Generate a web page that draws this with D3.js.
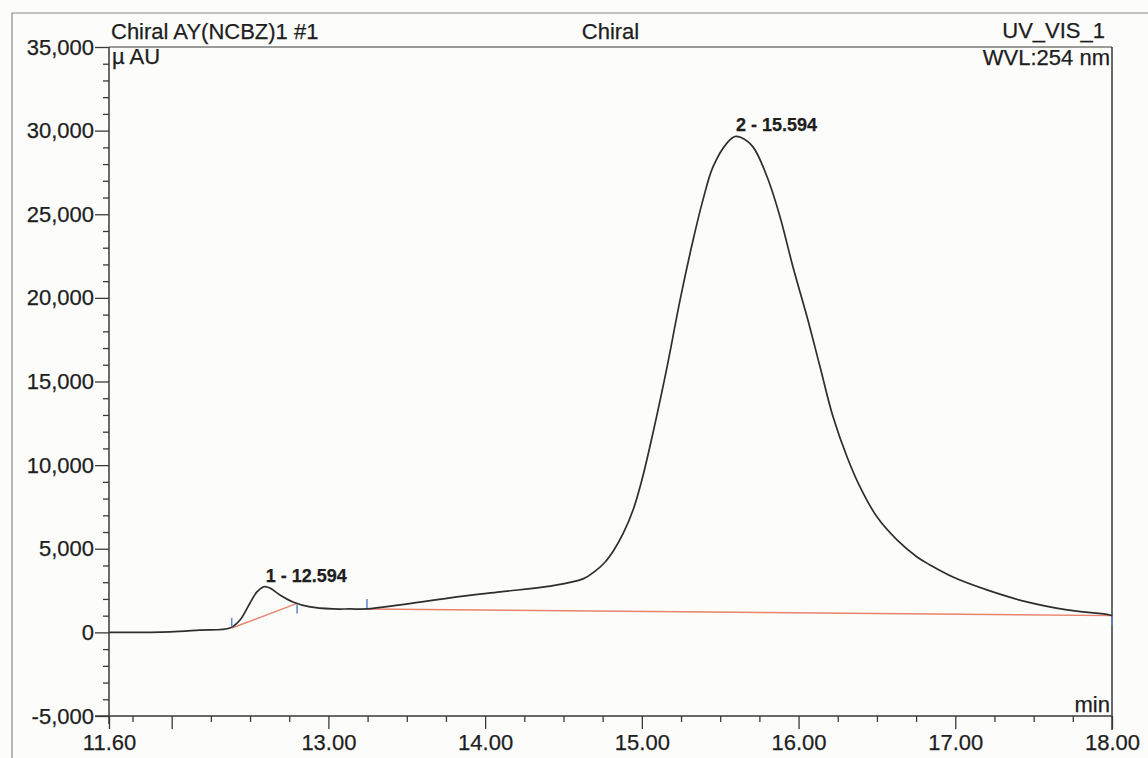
<!DOCTYPE html>
<html>
<head>
<meta charset="utf-8">
<script src="https://cdn.jsdelivr.net/npm/d3@7"></script>
<style>
  html, body { margin: 0; padding: 0; background: #fcfcfb; }
  svg { display: block; }
  text { font-family: "Liberation Sans", Arial, sans-serif; fill: #1e1e1e; stroke: #1e1e1e; stroke-width: 0.25px; }
</style>
</head>
<body>
<svg id="chart" width="1148" height="758"></svg>
<script>
// ---- data ----
const times = [11.60, 11.99, 12.18, 12.372, 12.436, 12.50, 12.544, 12.583, 12.594, 12.627, 12.691, 12.774, 12.883, 13.029, 13.138, 13.246,
  13.457, 13.776, 14.095, 14.414, 14.625, 14.70, 14.76, 14.82, 14.88, 14.944, 15.00, 15.071, 15.161, 15.244, 15.327, 15.39, 15.454, 15.544, 15.594,
  15.63, 15.709, 15.799, 15.882, 15.964, 16.054, 16.137, 16.22, 16.309, 16.392, 16.50, 16.628, 16.756, 16.839, 16.985, 17.202, 17.457,
  17.713, 17.987, 18.00];
const signal = [0, 30, 140, 260, 740, 1760, 2420, 2710, 2740, 2650, 2240, 1820, 1520, 1400, 1400, 1400,
  1640, 2060, 2420, 2770, 3200, 3650, 4150, 4900, 5900, 7320, 9100, 11920, 15870, 19880, 23460, 25860, 27830, 29270, 29650,
  29600, 29030, 27240, 24840, 21860, 18870, 15880, 12890, 10500, 8700, 6910, 5530, 4510, 4030, 3310, 2540, 1820,
  1340, 1040, 980];

const peakNames = ["1 - 12.594", "2 - 15.594"];
const peakTimes = [12.594, 15.594];
const peakHeights = [2740, 29650];

// integration baselines
const baseStartT = [12.383, 13.246];
const baseStartV = [260, 1400];
const baseEndT = [12.80, 18.00];
const baseEndV = [1730, 1000];

// peak delimiter marks
const delimT = [12.383, 12.80, 13.246, 18.00];
const delimV = [260, 1730, 1400, 1000];
const delimDir = [-1, 1, -1, 1];

const xLabelTicks = [11.60, 13.00, 14.00, 15.00, 16.00, 17.00, 18.00];
const xMajorTicks = [11.60, 12, 13, 14, 15, 16, 17, 18];
const xMinorTicks = [11.75, 12.25, 12.5, 12.75, 13.25, 13.5, 13.75, 14.25, 14.5, 14.75, 15.25, 15.5, 15.75,
  16.25, 16.5, 16.75, 17.25, 17.5, 17.75];
const yMajorTicks = [-5000, 0, 5000, 10000, 15000, 20000, 25000, 30000, 35000];
const yMinorTicks = [-4000, -3000, -2000, -1000, 1000, 2000, 3000, 4000, 6000, 7000, 8000, 9000, 11000, 12000, 13000, 14000,
  16000, 17000, 18000, 19000, 21000, 22000, 23000, 24000, 26000, 27000, 28000, 29000, 31000, 32000, 33000, 34000];

const headerLeft = "Chiral AY(NCBZ)1 #1";
const headerCenter = "Chiral";
const headerRight = "UV_VIS_1";
const unitLeft = "\u00b5 AU";
const unitRight = "WVL:254 nm";
const xUnit = "min";

// ---- layout ----
const svg = d3.select("#chart");
const L = 109, R = 1112, T = 47, B = 716;
const x = d3.scaleLinear().domain([11.6, 18.0]).range([L, R]);
const y = d3.scaleLinear().domain([-5000, 35000]).range([B, T]);
const axisColor = "#3a3a3a";
const loc = d3.formatLocale({decimal: ".", thousands: ",", grouping: [3], currency: ["", ""], minus: "-"});
const fy = loc.format(",");
const fx = d3.format(".2f");
const FS = 22;

// outer frame
svg.append("path").attr("d", `M12,758 L12,13 L1148,13`).attr("fill", "none").attr("stroke", "#8a8a8a").attr("stroke-width", 1.2);
// plot box top & right
svg.append("line").attr("x1", L).attr("x2", R).attr("y1", T).attr("y2", T).attr("stroke", axisColor).attr("stroke-width", 1.2);
svg.append("line").attr("x1", R).attr("x2", R).attr("y1", T).attr("y2", 730).attr("stroke", axisColor).attr("stroke-width", 1.5);

// Y axis
const yAxisMajor = d3.axisLeft(y).tickValues(yMajorTicks).tickSize(14).tickPadding(1).tickFormat(fy);
const yAxisMinor = d3.axisLeft(y).tickValues(yMinorTicks).tickSize(6).tickFormat("");
const gy = svg.append("g").attr("transform", `translate(${L},0)`).call(yAxisMajor);
const gy2 = svg.append("g").attr("transform", `translate(${L},0)`).call(yAxisMinor);
[gy, gy2].forEach(g => {
  g.select(".domain").remove();
  g.selectAll("line").attr("stroke", axisColor).attr("stroke-width", 1.3);
});
gy.selectAll("text").attr("font-size", FS).attr("fill", "#1e1e1e").style("font-family", "Liberation Sans, Arial, sans-serif");
svg.append("line").attr("x1", L).attr("x2", L).attr("y1", T).attr("y2", 724).attr("stroke", axisColor).attr("stroke-width", 1.5);

// X axis
const xAxisLab = d3.axisBottom(x).tickValues(xLabelTicks).tickSize(0).tickPadding(18).tickFormat(fx);
const xAxisMajor = d3.axisBottom(x).tickValues(xMajorTicks).tickSize(13).tickFormat("");
const xAxisMinor = d3.axisBottom(x).tickValues(xMinorTicks).tickSize(6).tickFormat("");
const gx = svg.append("g").attr("transform", `translate(0,${B})`).call(xAxisLab);
const gx2 = svg.append("g").attr("transform", `translate(0,${B})`).call(xAxisMajor);
const gx3 = svg.append("g").attr("transform", `translate(0,${B})`).call(xAxisMinor);
[gx, gx2, gx3].forEach(g => {
  g.select(".domain").remove();
  g.selectAll("line").attr("stroke", axisColor).attr("stroke-width", 1.3);
});
gx.selectAll("text").attr("font-size", FS).attr("fill", "#1e1e1e").style("font-family", "Liberation Sans, Arial, sans-serif");
svg.append("line").attr("x1", L - 14).attr("x2", R).attr("y1", B).attr("y2", B).attr("stroke", axisColor).attr("stroke-width", 1.5);

// baselines (red)
svg.append("g").selectAll("line").data(baseStartT).join("line")
  .attr("x1", (d, i) => x(d)).attr("y1", (d, i) => y(baseStartV[i]))
  .attr("x2", (d, i) => x(baseEndT[i])).attr("y2", (d, i) => y(baseEndV[i]))
  .attr("stroke", "#e8836d").attr("stroke-width", 1.4);

// chromatogram
const line = d3.line().x((d, i) => x(times[i])).y(d => y(d)).curve(d3.curveCatmullRom.alpha(0.5));
svg.append("path").datum(signal).attr("d", line)
  .attr("fill", "none").attr("stroke", "#2e2e2e").attr("stroke-width", 1.7).attr("stroke-linejoin", "round");

// delimiters (blue)
svg.append("g").selectAll("line").data(delimT).join("line")
  .attr("x1", d => x(d)).attr("x2", d => x(d))
  .attr("y1", (d, i) => y(delimV[i]) + (delimDir[i] < 0 ? -1 : 1))
  .attr("y2", (d, i) => y(delimV[i]) + (delimDir[i] < 0 ? -10 : 10))
  .attr("stroke", "#5b86c8").attr("stroke-width", 1.5);

// peak labels
svg.append("g").selectAll("text").data(peakNames).join("text")
  .attr("x", (d, i) => x(peakTimes[i]) + 1)
  .attr("y", (d, i) => y(peakHeights[i]) - 5)
  .attr("font-size", 18).attr("font-weight", "bold")
  .text(d => d);

// header texts
svg.append("text").attr("x", 111).attr("y", 39).attr("font-size", FS).text(headerLeft);
svg.append("text").attr("x", (L + R) / 2).attr("y", 39).attr("font-size", FS).attr("text-anchor", "middle").text(headerCenter);
svg.append("text").attr("x", 1105).attr("y", 38).attr("font-size", FS).attr("text-anchor", "end").text(headerRight);
svg.append("text").attr("x", 112).attr("y", 64).attr("font-size", FS).text(unitLeft);
svg.append("text").attr("x", 1110).attr("y", 65).attr("font-size", FS).attr("text-anchor", "end").text(unitRight);
svg.append("text").attr("x", 1110).attr("y", 712).attr("font-size", FS).attr("text-anchor", "end").text(xUnit);
</script>
</body>
</html>
